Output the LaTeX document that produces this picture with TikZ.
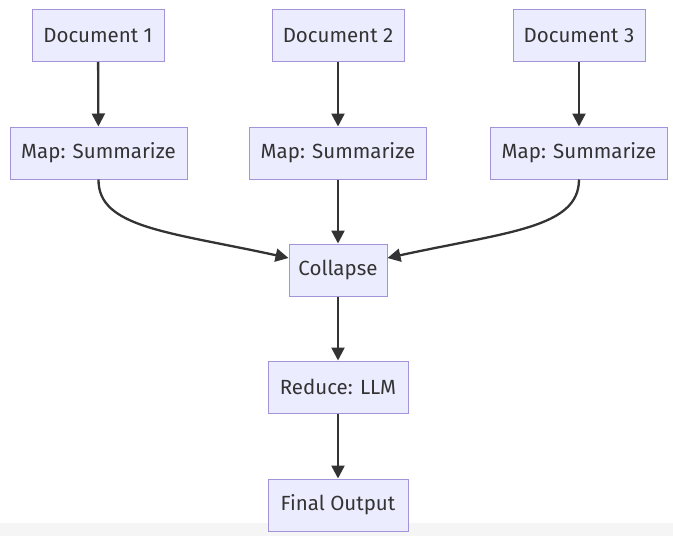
\documentclass[tikz,border=0pt]{standalone}
\usepackage{fontspec}
\setmainfont{Fira Sans}
\usetikzlibrary{arrows.meta}

\definecolor{boxfill}{HTML}{ECECFF}
\definecolor{boxline}{HTML}{A393D8}
\definecolor{inkgray}{HTML}{333333}

\tikzset{
  stepbox/.style={draw=boxline, fill=boxfill, line width=1pt,
    minimum height=52, inner sep=0pt, text=inkgray,
    font=\fontsize{20.5}{24}\selectfont},
  flow/.style={draw=inkgray, line width=2.3pt,
    -{Triangle[length=13pt,width=13pt]}}
}

\begin{document}
\begin{tikzpicture}[x=1pt,y=-1pt]

% ============================================================
% canvas
% ============================================================

\useasboundingbox (0,0) rectangle (673,536);
\fill[white] (0,0) rectangle (673,536);
\fill[black!4] (0,523) rectangle (673,536);

% ============================================================
% documents and map steps
% ============================================================

\def\DocW{132}   % width of a document box
\def\MapW{177}   % width of a map box

\node[stepbox, minimum width=\DocW] (doc1) at (98,35.5)  {Document 1};
\node[stepbox, minimum width=\DocW] (doc2) at (338,35.5) {Document 2};
\node[stepbox, minimum width=\DocW] (doc3) at (579,35.5) {Document 3};

\node[stepbox, minimum width=\MapW] (map1) at (98.5,153) {Map: Summarize};
\node[stepbox, minimum width=\MapW] (map2) at (338,153)  {Map: Summarize};
\node[stepbox, minimum width=\MapW] (map3) at (579,153)  {Map: Summarize};

% ============================================================
% collapse, reduce, output
% ============================================================

\node[stepbox, minimum width=98]  (collapse) at (338,270) {Collapse};
\node[stepbox, minimum width=140] (reduce)   at (338,387) {Reduce: LLM};
\node[stepbox, minimum width=140] (final)    at (338,505) {Final Output};

% ============================================================
% connectors
% ============================================================

\foreach \n in {1,2,3} {
  \draw[flow] (doc\n) -- (map\n);
}

\draw[flow] (map2) -- (collapse);
\draw[flow] (map1.south) .. controls (98,228) and (170,232) .. ([yshift=12pt]collapse.west);
\draw[flow] (map3.south) .. controls (579,228) and (507,232) .. ([yshift=12pt]collapse.east);

\draw[flow] (collapse) -- (reduce);
\draw[flow] (reduce) -- (final);

\end{tikzpicture}
\end{document}
